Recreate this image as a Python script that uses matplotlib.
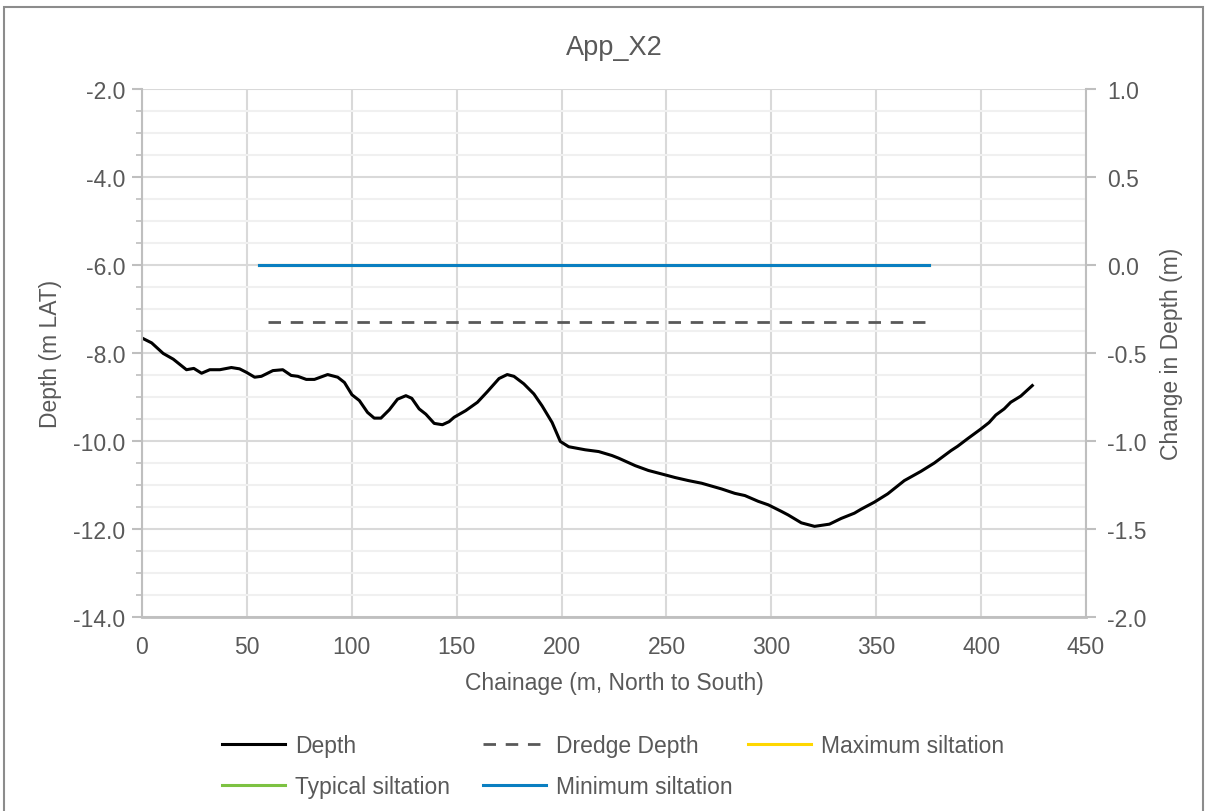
import matplotlib
matplotlib.use("Agg")
import matplotlib.pyplot as plt
from matplotlib.lines import Line2D
from matplotlib.patches import Rectangle
from matplotlib.ticker import MultipleLocator

# ---- data ----
chainage = [0, 4.6, 10.1, 14.9, 21.2, 24.7, 28.4, 32.3, 37.1, 42.6, 46.5, 49.8,
            53.7, 56.9, 62.4, 67.1, 71.1, 74.3, 78.3, 82.2, 88.5, 93.3, 96.5,
            100.1, 103.6, 107.5, 110.7, 113.9, 117.9, 121.8, 125.8, 128.6,
            132.1, 135.3, 139.3, 143.2, 146.4, 148.8, 154.3, 159.9, 164.6,
            170.2, 174.1, 177.3, 182.0, 186.8, 190.7, 195.5, 199.4, 203.4,
            211.3, 217.7, 224.0, 227.2, 235.1, 241.4, 247.8, 254.1, 260.5,
            266.8, 276.3, 282.6, 287.4, 293.7, 298.5, 304.8, 308.0, 314.3,
            320.6, 327.7, 333.3, 339.6, 342.8, 349.1, 355.5, 363.4, 371.3,
            377.7, 385.6, 388.8, 393.5, 399.8, 403.8, 407.0, 411.0, 414.1,
            418.9, 424.4]
depth = [-7.66, -7.77, -8.01, -8.14, -8.38, -8.35, -8.46, -8.38, -8.38, -8.33,
         -8.36, -8.44, -8.55, -8.53, -8.40, -8.38, -8.51, -8.53, -8.60, -8.60,
         -8.49, -8.55, -8.67, -8.95, -9.08, -9.35, -9.48, -9.48, -9.29, -9.05,
         -8.97, -9.03, -9.27, -9.39, -9.60, -9.63, -9.56, -9.46, -9.31, -9.12,
         -8.88, -8.58, -8.49, -8.53, -8.70, -8.93, -9.20, -9.58, -10.01,
         -10.13, -10.20, -10.24, -10.33, -10.39, -10.56, -10.67, -10.75,
         -10.83, -10.90, -10.96, -11.09, -11.19, -11.24, -11.37, -11.45,
         -11.60, -11.68, -11.86, -11.94, -11.89, -11.76, -11.64, -11.55,
         -11.39, -11.20, -10.90, -10.69, -10.50, -10.22, -10.12, -9.95, -9.73,
         -9.58, -9.41, -9.27, -9.12, -8.98, -8.74]

dredge_x = [60, 374]
dredge_depth = [-7.3, -7.3]

silt_x = [56, 375]
max_siltation = [0.0, 0.0]
typical_siltation = [0.0, 0.0]
min_siltation = [0.0, 0.0]

# ---- styling ----
txt = "#595959"
fs = 16.5
plt.rcParams["font.family"] = ["Liberation Sans", "DejaVu Sans"]
plt.rcParams["text.color"] = txt

fig = plt.figure(figsize=(12.06, 8.12), dpi=100)
fig.patches.append(Rectangle((4 / 1206, -0.01), 1199 / 1206, 1 - 8 / 812 + 0.01,
                             transform=fig.transFigure, fill=False,
                             edgecolor="#8c8c8c", linewidth=1.5))

ax = fig.add_axes([142 / 1206, 1 - 618 / 812, 944 / 1206, 528 / 812])
ax2 = ax.twinx()

ax.set_xlim(0, 450)
ax.set_ylim(-14, -2)
ax2.set_ylim(-2, 1)

ax.xaxis.set_major_locator(MultipleLocator(50))
ax.yaxis.set_major_locator(MultipleLocator(2))
ax.yaxis.set_minor_locator(MultipleLocator(0.5))
ax2.yaxis.set_major_locator(MultipleLocator(0.5))

ax.grid(True, which="major", color="#d9d9d9", linewidth=1.5)
ax.grid(True, which="minor", axis="y", color="#f0f0f0", linewidth=1.5)
ax.set_axisbelow(True)

for a in (ax, ax2):
    for s in a.spines.values():
        s.set_visible(False)
ax.spines["left"].set_visible(True)
ax.spines["left"].set_color("#bfbfbf")
ax.spines["left"].set_linewidth(1.5)
ax.spines["bottom"].set_visible(True)
ax.spines["bottom"].set_color("#bfbfbf")
ax.spines["bottom"].set_linewidth(2)
ax2.spines["right"].set_visible(True)
ax2.spines["right"].set_color("#bfbfbf")
ax2.spines["right"].set_linewidth(1.5)

ax.tick_params(axis="x", length=0, pad=13, labelsize=fs, labelcolor=txt)
ax.tick_params(axis="y", which="major", length=7, width=1.5, color="#bfbfbf",
               pad=5, labelsize=fs, labelcolor=txt)
ax.tick_params(axis="y", which="minor", length=4, width=1.2, color="#bfbfbf")
ax2.tick_params(axis="y", which="major", length=7, width=1.5, color="#bfbfbf",
                pad=8, labelsize=fs, labelcolor=txt)
ax2.grid(False)

ax.yaxis.set_major_formatter(lambda v, p: f"{v:.1f}")
ax2.yaxis.set_major_formatter(lambda v, p: f"{v:.1f}")

# ---- series ----
ax.plot(chainage, depth, color="black", linewidth=2.2)
ax.plot(dredge_x, dredge_depth, color="#595959", linewidth=2, linestyle=(0, (4.5, 3.5)))
ax2.plot(silt_x, max_siltation, color="#ffd700", linewidth=2.2)
ax2.plot(silt_x, typical_siltation, color="#7dc242", linewidth=2.2)
ax2.plot(silt_x, min_siltation, color="#0a7fc1", linewidth=2.2)

# ---- text ----
ax.set_title("App_X2", fontsize=19.5, color=txt, pad=25)
ax.set_xlabel("Chainage (m, North to South)", fontsize=fs, color=txt, labelpad=9)
ax.set_ylabel("Depth (m LAT)", fontsize=fs, color=txt, labelpad=8)
ax2.set_ylabel("Change in Depth (m)", fontsize=fs, color=txt, labelpad=10)

# legend: three single-column blocks at Excel's fixed column positions
h_depth = Line2D([], [], color="black", linewidth=2.2)
h_dredge = Line2D([], [], color="#595959", linewidth=2, linestyle=(0, (4.5, 3.5)))
h_max = Line2D([], [], color="#ffd700", linewidth=2.2)
h_typ = Line2D([], [], color="#7dc242", linewidth=2.2)
h_min = Line2D([], [], color="#0a7fc1", linewidth=2.2)
columns = [
    ([h_depth, h_typ], ["Depth", "Typical siltation"], 222),
    ([h_dredge, h_min], ["Dredge Depth", "Minimum siltation"], 483),
    ([h_max], ["Maximum siltation"], 748),
]
for handles, labels, x0 in columns:
    leg = fig.legend(handles, labels, loc="upper left",
                     bbox_to_anchor=(x0 / 1206, 1 - 735 / 812),
                     frameon=False, fontsize=fs, handlelength=2.75,
                     handletextpad=0.45, labelspacing=0.78,
                     borderpad=0, borderaxespad=0)

fig.savefig("out.png", dpi=100)
